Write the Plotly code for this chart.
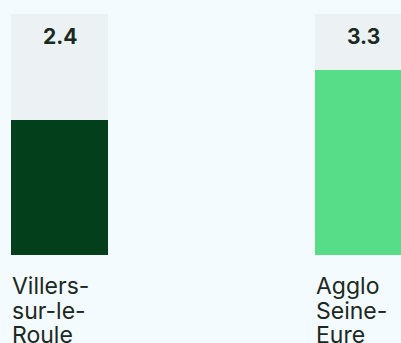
import plotly.graph_objects as go

# data
categories = ["Villers-sur-le-Roule", "Agglo Seine-Eure"]
label_lines = [["Villers-", "sur-le-", "Roule"], ["Agglo", "Seine-", "Eure"]]
values = [2.4, 3.3]
scale_max = 4.3

bar_colors = ["#033f1a", "#57dd87"]
track_color = "#ecf2f3"
bg_color = "#f4fbfe"
text_color = "#1b2923"

W, H = 401, 343
px_per_unit = 304.0      # distance between bar centres
bar_w = 97 / px_per_unit
x0 = -59.5 / px_per_unit
x1 = x0 + W / px_per_unit

y_scale = 56.1           # px per value unit
zero_px = 255
y_top = zero_px / y_scale
y_bot = -(H - zero_px) / y_scale

xs = list(range(len(categories)))

fig = go.Figure()
fig.add_trace(go.Bar(
    x=xs, y=[scale_max] * len(xs), width=bar_w,
    marker=dict(color=track_color, line=dict(width=0)),
    hoverinfo="skip", showlegend=False,
))
fig.add_trace(go.Bar(
    x=xs, y=values, width=bar_w,
    marker=dict(color=bar_colors, line=dict(width=0)),
    customdata=categories,
    hovertemplate="%{customdata}: %{y}<extra></extra>",
    showlegend=False,
))

for i, v in enumerate(values):
    fig.add_annotation(
        x=i, y=scale_max, xref="x", yref="y",
        text=f"<b>{v}</b>", showarrow=False,
        yanchor="top", yshift=-8,
        font=dict(family="Inter", size=21, color=text_color),
    )
    for j, line in enumerate(label_lines[i]):
        fig.add_annotation(
            x=i - bar_w / 2, y=0, xref="x", yref="y",
            text=line, showarrow=False,
            xanchor="left", yanchor="top",
            xshift=-1, yshift=-15 - 24.5 * j,
            font=dict(family="Inter", size=23, color=text_color),
        )

fig.update_layout(
    width=W, height=H,
    margin=dict(l=0, r=0, t=0, b=0),
    paper_bgcolor=bg_color, plot_bgcolor=bg_color,
    barmode="overlay", bargap=0,
    xaxis=dict(range=[x0, x1], visible=False, fixedrange=True),
    yaxis=dict(range=[y_bot, y_top], visible=False, fixedrange=True),
)

# drop the default page margin so the figure sits at the window's corner
fig.write_html(
    "out.html",
    config={"displayModeBar": False},
    post_script="document.body.style.margin='0';document.body.style.overflow='hidden';"
                f"document.body.style.background='{bg_color}';",
)
